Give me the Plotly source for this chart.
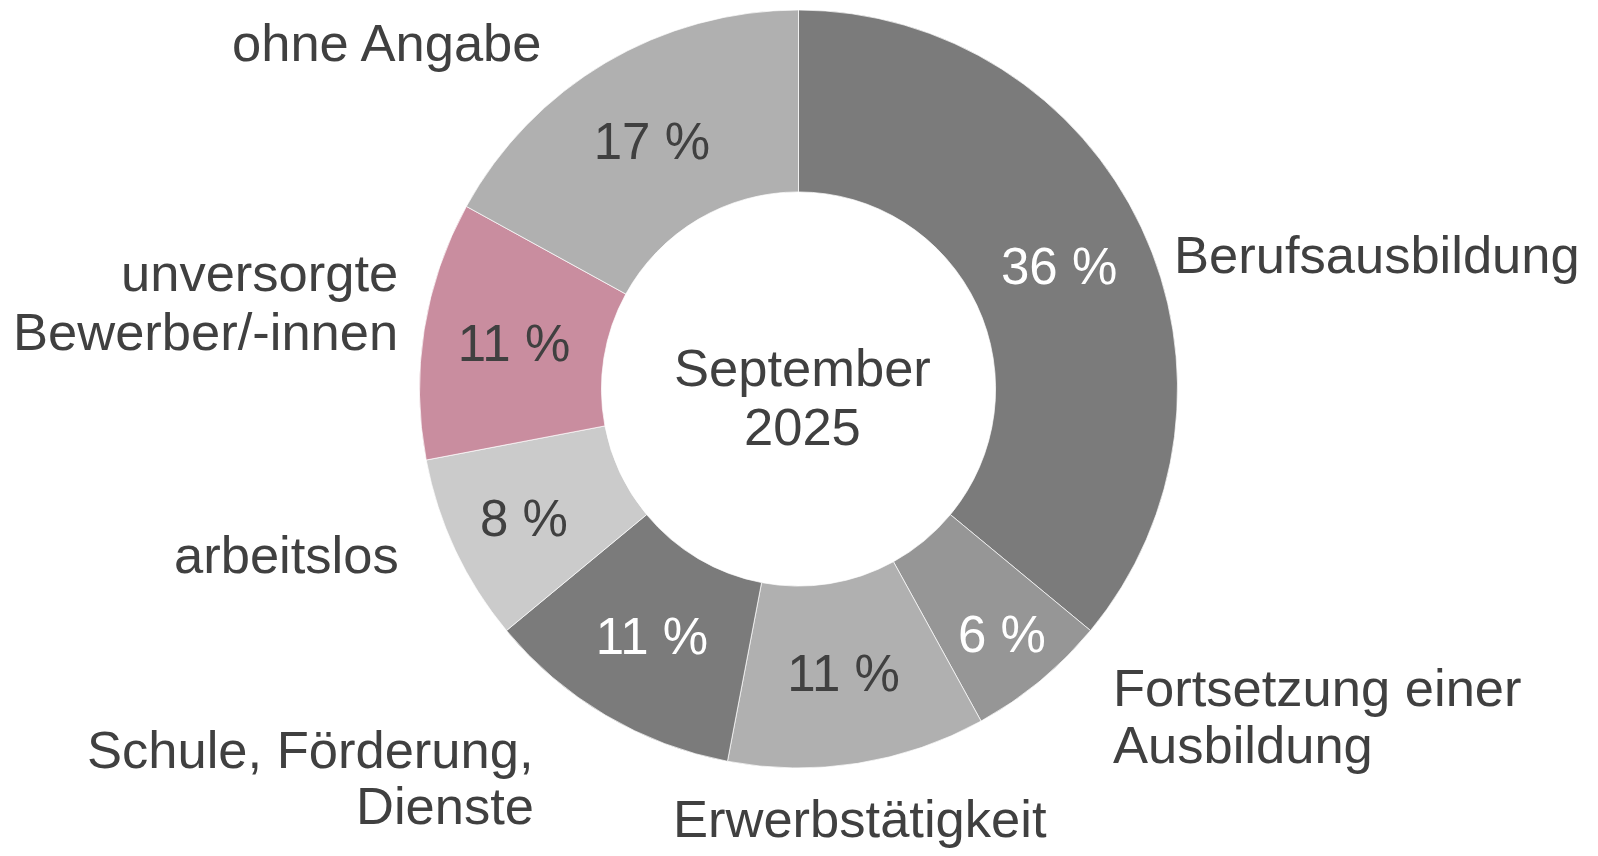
import plotly.graph_objects as go

categories = ["Berufsausbildung", "Fortsetzung einer Ausbildung", "Erwerbstätigkeit",
              "Schule, Förderung, Dienste", "arbeitslos", "unversorgte Bewerber/-innen", "ohne Angabe"]
values = [36, 6, 11, 11, 8, 11, 17]
pct_labels = ["36 %", "6 %", "11 %", "11 %", "8 %", "11 %", "17 %"]
slice_colors = ["#7b7b7b", "#969696", "#b0b0b0", "#7b7b7b", "#cbcbcb", "#c98d9f", "#b0b0b0"]
text_colors = ["#ffffff", "#ffffff", "#404040", "#ffffff", "#404040", "#404040", "#404040"]
center_lines = ["September", "2025"]

W, H = 1598, 856
FS = 52.5
FONT = "Liberation Sans, Arial, sans-serif"
DARK = "#404040"
OFF = 8  # page body margin offset

cx, cy, r = 798.5 - OFF, 389.0 - OFF, 379

fig = go.Figure(go.Pie(
    labels=categories, values=values, text=pct_labels, textinfo="text",
    sort=False, direction="clockwise", rotation=0, hole=0.52,
    marker=dict(colors=slice_colors, line=dict(color="#ffffff", width=0.7)),
    textposition="inside", insidetextorientation="horizontal",
    textfont=dict(family=FONT, size=51, color=text_colors),
    domain=dict(x=[(cx - r) / W, (cx + r) / W], y=[(H - cy - r) / H, (H - cy + r) / H]),
    showlegend=False, hoverinfo="label+percent",
))

# outside labels: (text, x px, baseline px, xanchor) in reference pixel coords
outside = [
    ("ohne Angabe", 544, 60, "right"),
    ("Berufsausbildung", 1172, 272, "left"),
    ("unversorgte", 400, 290, "right"),
    ("Bewerber/-innen", 400, 349, "right"),
    ("arbeitslos", 401, 572, "right"),
    ("Schule, Förderung,", 536, 767, "right"),
    ("Dienste", 536, 823, "right"),
    ("Erwerbstätigkeit", 860, 836, "center"),
    ("Fortsetzung einer", 1111, 705, "left"),
    ("Ausbildung", 1111, 762, "left"),
    (center_lines[0], 802, 385, "center"),
    (center_lines[1], 802, 444, "center"),
]
annotations = []
for txt, x, base, xa in outside:
    annotations.append(dict(
        text=txt, x=(x - OFF) / W, y=1 - (base - OFF - 0.33 * FS) / H, xref="paper", yref="paper",
        xanchor=xa, yanchor="middle", showarrow=False,
        font=dict(family=FONT, size=FS, color=DARK),
    ))

fig.update_layout(
    width=W, height=H, margin=dict(l=0, r=0, t=0, b=0),
    paper_bgcolor="white", plot_bgcolor="white",
    annotations=annotations,
    uniformtext=dict(minsize=51, mode="show"),
)
fig.write_html("out.html")
